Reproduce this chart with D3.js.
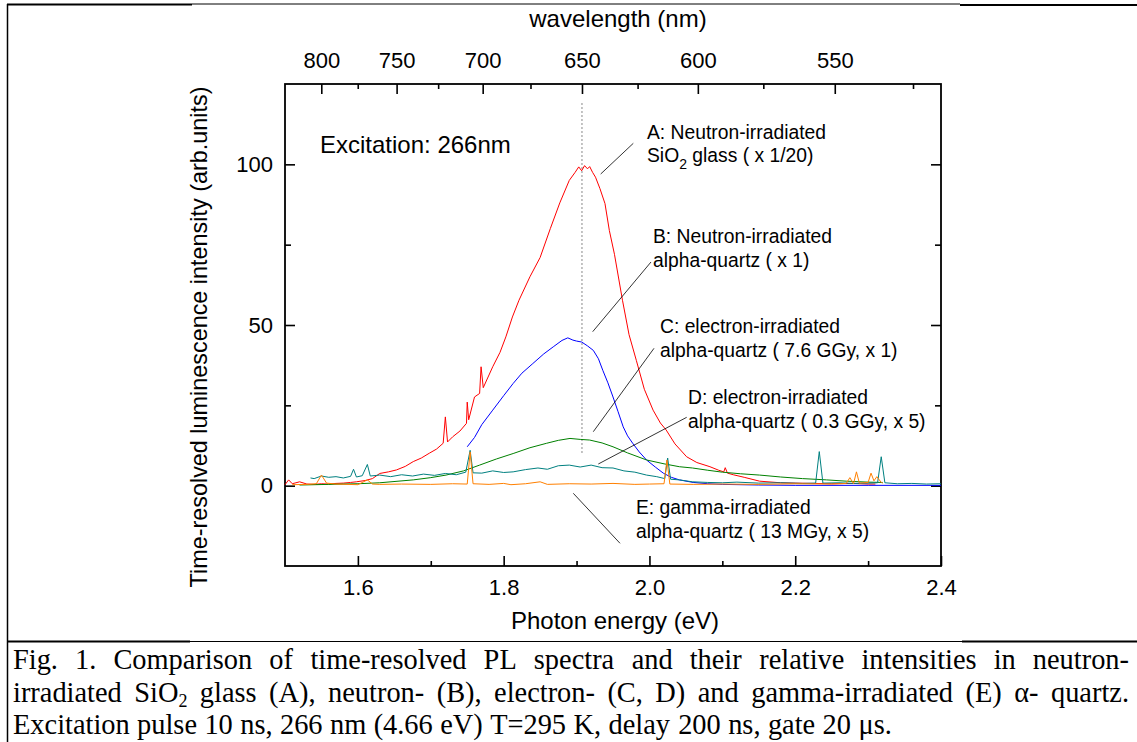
<!DOCTYPE html>
<html lang="en">
<head>
<meta charset="UTF-8">
<title>time-resolved PL spectra</title>
<style>
  body { margin: 0; background: #fff; }
  svg text { font-family: "Liberation Sans", Arial, sans-serif; fill: #000; }
  svg .cap text { font-family: "Liberation Serif", "Times New Roman", serif; font-size: 28.4px; }
</style>
</head>
<body>
<svg id="cont" width="1137" height="742"></svg>
<script src="https://cdn.jsdelivr.net/npm/d3@7"></script>
<script>
const HC = 1239.84; // eV*nm

// A: neutron-irradiated SiO2 glass (x 1/20)
const energyA = [1.500,1.505,1.510,1.515,1.520,1.530,1.540,1.550,1.560,1.570,1.580,1.590,1.598,1.610,1.620,1.630,1.642,1.653,1.665,1.676,1.687,1.698,1.708,1.717,1.720,1.723,1.730,1.740,1.749,1.750,1.752,1.760,1.767,1.769,1.772,1.785,1.795,1.803,1.812,1.821,1.836,1.850,1.864,1.877,1.890,1.898,1.903,1.907,1.911,1.915,1.918,1.922,1.926,1.932,1.939,1.945,1.952,1.963,1.972,1.982,1.993,2.005,2.015,2.023,2.035,2.051,2.065,2.083,2.095,2.102,2.104,2.107,2.115,2.130,2.151,2.180,2.200,2.250,2.280,2.300,2.310];
const valueA  = [0.3,1.8,0.6,0.9,1.2,0.5,0.4,0.6,0.5,0.7,0.8,1.0,1.2,1.6,2.2,3.8,4.3,4.9,6.0,7.5,8.6,10.1,11.4,13.2,21.4,13.6,15.2,17.0,19.4,26.0,20.5,27.6,28.7,37.0,30.5,37.0,41.5,46.3,52.5,57.7,65.0,71.0,80.0,88.0,95.0,97.5,99.2,98.0,99.6,98.6,99.3,97.5,96.0,92.5,87.8,79.4,72.0,57.7,47.0,39.0,30.0,23.5,19.5,17.3,13.0,9.0,7.2,5.9,4.8,4.3,5.6,3.9,3.4,2.6,1.4,0.9,0.8,0.6,0.7,0.5,0.5];

// B: neutron-irradiated alpha-quartz (x 1)
const energyB = [1.750,1.760,1.770,1.785,1.800,1.813,1.825,1.840,1.855,1.868,1.880,1.888,1.895,1.900,1.907,1.915,1.923,1.930,1.936,1.943,1.950,1.957,1.964,1.970,1.977,1.986,1.996,2.008,2.019,2.030,2.041,2.060,2.080,2.100,2.150,2.200,2.300,2.400];
const valueB  = [12.1,15.0,19.0,23.5,28.0,31.8,35.0,38.0,41.0,43.2,45.2,46.0,45.3,45.0,44.7,43.5,42.1,39.5,35.9,32.0,27.6,23.0,18.3,15.5,13.2,10.5,8.0,5.8,3.9,2.6,1.8,1.0,0.6,0.4,0.2,0.1,0.1,0.1];

// C: electron-irradiated alpha-quartz (7.6 GGy, x 1)
const energyC = [1.520,1.560,1.600,1.630,1.676,1.700,1.721,1.745,1.767,1.790,1.813,1.836,1.859,1.875,1.891,1.905,1.918,1.935,1.950,1.970,1.996,2.020,2.041,2.059,2.080,2.100,2.125,2.151,2.180,2.210,2.243,2.270,2.300,2.320];
const valueC  = [0.2,0.4,0.6,0.9,1.8,2.5,3.3,4.6,6.4,8.3,10.0,11.8,13.2,14.1,14.7,14.4,14.2,13.3,12.1,10.2,8.0,6.8,5.9,5.5,4.8,4.2,3.7,3.3,2.7,2.2,1.8,1.4,1.1,1.0];

// D: electron-irradiated alpha-quartz (0.3 GGy, x 5)
const energyD = [1.535,1.540,1.550,1.560,1.570,1.580,1.590,1.594,1.598,1.606,1.613,1.617,1.630,1.645,1.660,1.675,1.690,1.705,1.720,1.735,1.748,1.754,1.758,1.770,1.785,1.800,1.813,1.830,1.847,1.860,1.875,1.890,1.905,1.920,1.935,1.950,1.965,1.980,1.996,2.010,2.021,2.025,2.029,2.041,2.059,2.080,2.100,2.120,2.150,2.180,2.210,2.228,2.233,2.238,2.260,2.280,2.300,2.313,2.318,2.323,2.340,2.360,2.380,2.400];
const valueD  = [2.4,2.2,3.0,2.6,2.8,2.4,2.9,5.1,2.7,3.1,6.6,3.0,3.3,2.8,3.4,3.0,3.6,3.2,3.8,3.4,4.2,11.0,4.0,3.9,4.6,4.1,4.3,5.0,5.5,5.1,6.2,6.4,5.8,6.4,5.6,5.5,4.6,4.2,3.3,2.8,2.2,8.6,2.0,1.8,1.2,1.0,0.9,1.1,0.8,0.9,0.7,0.8,10.6,0.8,0.9,0.7,0.8,0.9,9.0,0.9,0.6,0.7,0.5,0.6];

// E: gamma-irradiated alpha-quartz (13 MGy, x 5)
const energyE = [1.510,1.530,1.543,1.550,1.557,1.570,1.600,1.613,1.620,1.630,1.660,1.700,1.730,1.750,1.754,1.758,1.780,1.800,1.810,1.830,1.850,1.860,1.890,1.920,1.950,1.980,2.000,2.020,2.024,2.028,2.060,2.100,2.150,2.200,2.250,2.270,2.275,2.280,2.284,2.288,2.300,2.304,2.308,2.312,2.318,2.320];
const valueE  = [0.3,0.4,0.6,3.3,0.8,0.5,0.3,1.8,0.5,0.4,0.5,0.4,0.6,0.5,10.5,0.6,0.4,0.7,0.3,0.6,1.2,0.4,0.6,0.5,0.7,0.4,0.5,0.6,8.0,0.5,0.4,0.5,0.4,0.6,0.5,0.7,2.5,0.6,4.3,0.8,1.0,3.9,1.5,2.8,1.0,0.8];

const xMajor = [1.6, 1.8, 2.0, 2.2, 2.4];
const xMinor = [1.7, 1.9, 2.1, 2.3];
const yMajor = [0, 50, 100];
const yMinor = [25, 75];
const waveMajor = [800, 750, 700, 650, 600, 550];
const waveMinor = [775, 725, 675, 625, 575, 525];
const markWave = 650;

const svg = d3.select("#cont");
const x = d3.scaleLinear().domain([1.5, 2.4]).range([285, 941]);
const y = d3.scaleLinear().domain([-25, 125]).range([566, 84]);

function styleAxis(g, size) {
  g.select(".domain").remove();
  g.selectAll("line").attr("stroke", "#000").attr("stroke-width", 1.6);
  g.selectAll("text").attr("font-size", size).attr("font-family", "Liberation Sans, Arial, sans-serif").attr("fill", "#000");
}

// axes
svg.append("g").attr("transform", "translate(0,566)")
  .call(d3.axisBottom(x).tickValues(xMajor).tickSize(-10).tickPadding(13).tickFormat(d3.format(".1f")))
  .call(g => styleAxis(g, 22));
svg.append("g").attr("transform", "translate(0,566)")
  .call(d3.axisBottom(x).tickValues(xMinor).tickSize(-5).tickFormat(""))
  .call(g => styleAxis(g, 22));
svg.append("g").attr("transform", "translate(0,84)")
  .call(d3.axisTop(x).tickValues(waveMajor.map(l => HC / l)).tickSize(-10).tickPadding(16).tickFormat(e => Math.round(HC / e)))
  .call(g => styleAxis(g, 22));
svg.append("g").attr("transform", "translate(0,84)")
  .call(d3.axisTop(x).tickValues(waveMinor.map(l => HC / l)).tickSize(-5).tickFormat(""))
  .call(g => styleAxis(g, 22));
svg.append("g").attr("transform", "translate(285,0)")
  .call(d3.axisLeft(y).tickValues(yMajor).tickSize(-10).tickPadding(12))
  .call(g => styleAxis(g, 22));
svg.append("g").attr("transform", "translate(285,0)")
  .call(d3.axisLeft(y).tickValues(yMinor).tickSize(-6).tickFormat(""))
  .call(g => styleAxis(g, 22));
svg.append("g").attr("transform", "translate(941,0)")
  .call(d3.axisRight(y).tickValues(yMajor).tickSize(-10).tickFormat(""))
  .call(g => styleAxis(g, 22));
svg.append("g").attr("transform", "translate(941,0)")
  .call(d3.axisRight(y).tickValues(yMinor).tickSize(-6).tickFormat(""))
  .call(g => styleAxis(g, 22));

svg.append("rect")
  .attr("x", x(1.5)).attr("y", y(125))
  .attr("width", x(2.4) - x(1.5)).attr("height", y(-25) - y(125))
  .attr("fill", "none").attr("stroke", "#000").attr("stroke-width", 1.8);

// dotted marker at 650 nm
svg.append("line")
  .attr("x1", x(HC / markWave)).attr("x2", x(HC / markWave))
  .attr("y1", 103).attr("y2", 455)
  .attr("stroke", "#888").attr("stroke-width", 1).attr("stroke-dasharray", "2,2");

// spectra
const line = d3.line().x(d => x(d[0])).y(d => y(d[1]));
const series = [
  { e: energyA, v: valueA, c: "#ff0000" },
  { e: energyB, v: valueB, c: "#0000ff" },
  { e: energyC, v: valueC, c: "#008000" },
  { e: energyD, v: valueD, c: "#008080" },
  { e: energyE, v: valueE, c: "#ff8000" }
];
svg.selectAll("path.spec")
  .data(series)
  .enter().append("path")
  .attr("class", "spec")
  .attr("fill", "none")
  .attr("stroke", d => d.c)
  .attr("stroke-width", 1)
  .attr("d", d => line(d.e.map((e, i) => [e, d.v[i]])));

// titles
svg.append("text").attr("x", 618).attr("y", 27).attr("text-anchor", "middle").attr("font-size", 24).text("wavelength (nm)");
svg.append("text").attr("x", 615).attr("y", 629).attr("text-anchor", "middle").attr("font-size", 24).text("Photon energy (eV)");
svg.append("text").attr("transform", "translate(207,337) rotate(-90)").attr("text-anchor", "middle").attr("font-size", 23.4)
  .text("Time-resolved luminescence intensity (arb.units)");
svg.append("text").attr("x", 320).attr("y", 153).attr("font-size", 24).text("Excitation: 266nm");

// annotations
const notes = [
  { x: 647, y: 139, l1: "A: Neutron-irradiated", l2: null, ln: [600.7, 174, 633.3, 143.3] },
  { x: 653, y: 243, l1: "B: Neutron-irradiated", l2: "alpha-quartz ( x 1)", ln: [592.7, 331.7, 651, 262] },
  { x: 660, y: 333, l1: "C: electron-irradiated", l2: "alpha-quartz ( 7.6 GGy, x 1)", ln: [593.3, 431.7, 654, 348.3] },
  { x: 688, y: 404, l1: "D: electron-irradiated", l2: "alpha-quartz ( 0.3 GGy, x 5)", ln: [598.3, 464, 686.7, 417.3] },
  { x: 636, y: 514, l1: "E: gamma-irradiated", l2: "alpha-quartz ( 13 MGy, x 5)", ln: [573.3, 493.3, 620, 543.3] }
];
notes.forEach(n => {
  svg.append("line").attr("x1", n.ln[0]).attr("y1", n.ln[1]).attr("x2", n.ln[2]).attr("y2", n.ln[3])
    .attr("stroke", "#000").attr("stroke-width", 0.8);
  svg.append("text").attr("x", n.x).attr("y", n.y).attr("font-size", 19.3).text(n.l1);
  if (n.l2) svg.append("text").attr("x", n.x).attr("y", n.y + 24).attr("font-size", 19.3).text(n.l2);
});
const sio = svg.append("text").attr("x", 647).attr("y", 162).attr("font-size", 19.3);
sio.append("tspan").text("SiO");
sio.append("tspan").attr("font-size", 14).attr("dy", 7).text("2");
sio.append("tspan").attr("dy", -7).text(" glass ( x 1/20)");

// page frame
const frame = [
  [7, 4.5, 192, 4.5, 2.2], [192, 4, 960, 4, 1], [960, 5, 1137, 5, 2.2],
  [7, 641.5, 190, 641.5, 2.2], [190, 641.5, 962, 641.5, 1], [962, 641.5, 1137, 641.5, 2.2],
  [7.5, 4, 7.5, 742, 1.5]
];
frame.forEach(f => svg.append("line").attr("x1", f[0]).attr("y1", f[1]).attr("x2", f[2]).attr("y2", f[3])
  .attr("stroke", "#000").attr("stroke-width", f[4]));

// caption: one line of words per row, spread to both margins like the printed text
const capLines = [
  { y: 669, words: "Fig. 1. Comparison of time-resolved PL spectra and their relative intensities in neutron-".split(" "), just: true },
  { y: 702, words: "irradiated SiO2 glass (A), neutron- (B), electron- (C, D) and gamma-irradiated (E) α- quartz.".split(" "), just: true },
  { y: 734, words: "Excitation pulse 10 ns, 266 nm (4.66 eV) T=295 K, delay 200 ns, gate 20 μs.".split(" "), just: false }
];
const cap = svg.append("g").attr("class", "cap");
capLines.forEach(L => {
  const nodes = L.words.map(w => {
    const t = cap.append("text").attr("y", L.y);
    if (w === "SiO2") {
      t.append("tspan").text("SiO");
      t.append("tspan").attr("font-size", 18).attr("dy", 5).text("2");
    } else t.text(w);
    return t;
  });
  const widths = nodes.map(n => n.node().getBBox().width);
  const gap = L.just ? Math.max(5, (1129 - 13 - d3.sum(widths)) / (nodes.length - 1)) : 7.4;
  let cx = 13;
  nodes.forEach((n, i) => { n.attr("x", cx); cx += widths[i] + gap; });
});
</script>
</body>
</html>
